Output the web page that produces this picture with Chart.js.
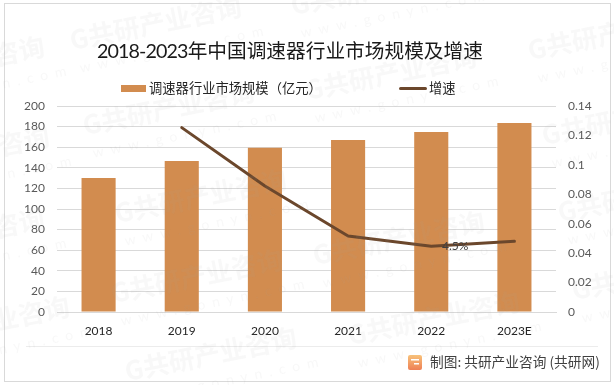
<!DOCTYPE html>
<html>
<head>
<meta charset="utf-8">
<style>
  html, body { margin: 0; padding: 0; background: #fff; }
  #wrap { position: relative; width: 614px; height: 385px; font-family: Lato, 'Noto Sans CJK SC', sans-serif; }
  #chart { position: absolute; left: 0; top: 0; }
  #title { position: absolute; left: 0; width: 580px; top: 38px; text-align: center; font-size: 19.7px; line-height: 26px; color: #1a1a1a; white-space: nowrap; }
  #title span { letter-spacing: -0.9px; }
  .key { position: absolute; top: 80px; font-size: 13.3px; line-height: 17px; color: #262626; white-space: nowrap; }
  .swatch { position: absolute; }
</style>
</head>
<body>
<div id="wrap">
  <canvas id="chart" width="614" height="385"></canvas>
  <div id="title"></div>
  <div class="swatch" id="barKey" style="left:121px;top:85px;width:25px;height:7px"></div>
  <div class="key" id="barName" style="left:149px"></div>
  <div class="swatch" id="lineKey" style="left:399px;top:87px;width:28px;height:3px;border-radius:2px"></div>
  <div class="key" id="lineName" style="left:429px"></div>
</div>
<script src="https://cdn.jsdelivr.net/npm/chart.js@4"></script>
<script>
const categories = ["2018", "2019", "2020", "2021", "2022", "2023E"];
const marketSize = [130, 146.6, 159.5, 167, 174.8, 183.5];
const growth = [null, 0.1253, 0.0856, 0.0517, 0.0447, 0.048];
const growthLabels = [null, null, null, null, "4.5%", null];
const sizeTicks = [0, 20, 40, 60, 80, 100, 120, 140, 160, 180, 200];
const growthTicks = [0, 0.02, 0.04, 0.06, 0.08, 0.1, 0.12, 0.14];
const seriesNames = ["调速器行业市场规模（亿元）", "增速"];
const titleYears = "2018-2023";
const titleRest = "年中国调速器行业市场规模及增速";
const footerText = "制图: 共研产业咨询 (共研网)";

const BAR = "#d28c4f";
const LINE = "#6b472c";
const FONT = "Lato, 'Noto Sans CJK SC', sans-serif";

document.getElementById("title").innerHTML = "<span>" + titleYears + "</span>" + titleRest;
document.getElementById("barName").textContent = seriesNames[0];
document.getElementById("lineName").textContent = seriesNames[1];
document.getElementById("barKey").style.background = BAR;
document.getElementById("lineKey").style.background = LINE;

// faint company stamp repeated across the picture
const stamps = [[72, 50], [85, 135], [293, 15], [307, 100], [530, 60], [544, 145],
  [-125, 90], [-120, 180], [-125, 262], [-100, 350], [117, 223], [113, 303],
  [127, 381], [350, 345], [315, 265], [560, 222], [574, 300]];

const backdrop = {
  id: "backdrop",
  beforeDraw(chart) {
    const c = chart.ctx;
    c.save();
    c.fillStyle = "#fff";
    c.fillRect(0, 0, 614, 385);
    c.strokeStyle = "#d9d9d9";
    c.lineWidth = 1;
    c.strokeRect(4.5, 3.5, 606, 378);
    c.strokeStyle = "#ececec";
    c.beginPath();
    c.moveTo(26, 346.5);
    c.lineTo(598, 346.5);
    c.stroke();
    c.restore();
  }
};

const lineLabels = {
  id: "lineLabels",
  afterDatasetsDraw(chart) {
    const c = chart.ctx;
    c.save();
    c.font = "12px " + FONT;
    c.fillStyle = "#404040";
    c.textAlign = "center";
    c.textBaseline = "middle";
    growthLabels.forEach((t, i) => {
      if (t) c.fillText(t, chart.scales.x.getPixelForValue(i) + 24, chart.scales.y1.getPixelForValue(growth[i]));
    });
    c.restore();
  }
};

const overlay = {
  id: "overlay",
  afterDraw(chart) {
    const c = chart.ctx;
    c.save();
    // footer
    const g = c.createLinearGradient(0, 355, 0, 370);
    g.addColorStop(0, "#f8c27a");
    g.addColorStop(1, "#ee8055");
    c.fillStyle = g;
    c.beginPath();
    c.roundRect(408, 355, 14, 15, 2);
    c.fill();
    c.fillStyle = "#fff";
    c.fillRect(411, 359, 8, 1.5);
    c.fillRect(414, 363, 5, 1.5);
    c.font = "13.7px 'Noto Sans CJK SC', sans-serif";
    c.fillStyle = "#404040";
    c.textBaseline = "middle";
    c.fillText(footerText, 430, 362);
    // watermark
    c.fillStyle = "rgba(170,170,170,0.08)";
    stamps.forEach(([x, y]) => {
      c.save();
      c.translate(x, y);
      c.rotate(-0.2);
      c.font = "bold 26px 'Noto Sans CJK SC', sans-serif";
      c.textBaseline = "alphabetic";
      c.fillText("G共研产业咨询", 0, 0);
      c.font = "14px Lato, sans-serif";
      c.letterSpacing = "7px";
      c.fillText("www.gonyn.com", 4, 24);
      c.restore();
    });
    c.restore();
  }
};

new Chart(document.getElementById("chart"), {
  data: {
    labels: categories,
    datasets: [
      { type: "line", label: seriesNames[1], data: growth, yAxisID: "y1", borderColor: LINE, backgroundColor: LINE,
        borderWidth: 3, pointRadius: 0, borderCapStyle: "round", borderJoinStyle: "round", tension: 0, order: 1 },
      { type: "bar", label: seriesNames[0], data: marketSize, yAxisID: "y", backgroundColor: BAR,
        barPercentage: 0.41, categoryPercentage: 1, order: 2 }
    ]
  },
  options: {
    responsive: false,
    animation: false,
    layout: { padding: { top: 106, right: 0, bottom: 0, left: 0 } },
    plugins: {
      tooltip: { enabled: false },
      title: { display: false },
      legend: { display: false }
    },
    scales: {
      x: {
        grid: { display: false },
        border: { color: "#d9d9d9" },
        ticks: { color: "#262626", padding: 4, font: { family: FONT, size: 12 }, maxRotation: 0 },
        afterFit(s) { s.height = 73; }
      },
      y: {
        position: "left",
        min: 0,
        max: 200,
        afterBuildTicks(s) { s.ticks = sizeTicks.map(v => ({ value: v })); },
        afterFit(s) { s.width = 57; },
        grid: { color: "#d9d9d9", drawTicks: false },
        border: { display: false },
        ticks: { color: "#595959", padding: 12, font: { family: FONT, size: 12 } }
      },
      y1: {
        position: "right",
        min: 0,
        max: 0.14,
        afterBuildTicks(s) { s.ticks = growthTicks.map(v => ({ value: v })); },
        afterFit(s) { s.width = 58; },
        grid: { display: false, drawTicks: false },
        border: { display: false },
        ticks: { color: "#595959", padding: 12, font: { family: FONT, size: 12 }, callback: v => String(v) }
      }
    }
  },
  plugins: [backdrop, lineLabels, overlay]
});
</script>
</body>
</html>
